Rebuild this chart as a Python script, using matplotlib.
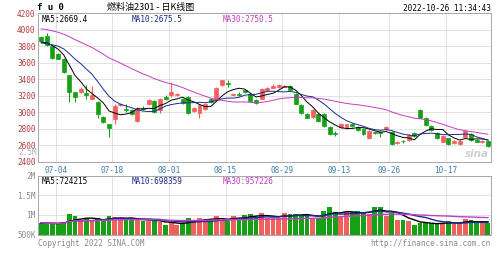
import numpy as np
import pandas as pd
import matplotlib
matplotlib.use('Agg')
import matplotlib.pyplot as plt

# trading days shown, 2022-06-29 .. 2022-10-26 (mid-autumn + national day closed)
holidays = ['2022-09-12', '2022-10-03', '2022-10-04', '2022-10-05', '2022-10-06', '2022-10-07']
dates = pd.bdate_range('2022-06-29', '2022-10-26')
dates = dates[~dates.isin(pd.to_datetime(holidays))]
labels = dates.strftime('%m-%d')

tick_dates = ['07-04', '07-18', '08-01', '08-15', '08-29', '09-13', '09-26', '10-17']

# closes before the window (only feed the moving averages)
prior_close = [4080, 4120, 4150, 4180, 4200, 4230, 4210, 4190, 4160, 4170, 4140, 4110, 4020,
               4060, 4030, 4010, 3990, 3970, 3960, 3945,
               3880, 3820, 3800, 3830, 3820,
               3850, 3830, 3860, 3840]

# daily OHLC read from the candles
opens = [3910, 3930, 3809, 3709, 3648, 3447, 3245, 3245, 3233, 3165,
         3124, 2943, 2854, 2911, 3084, 3044, 3024, 2895, 3056, 3096,
         3136, 3024, 3185, 3205, 3213, 3165, 3185, 3011, 2991, 3044,
         3165, 3152, 3326, 3354, 3213, 3225, 3265, 3225, 3152, 3165,
         3265, 3298, 3306, 3310, 3314, 3225, 3084, 2975, 2943, 2975,
         2975, 2822, 2745, 2814, 2814, 2854, 2822, 2794, 2681, 2755,
         2760, 2790, 2762, 2625, 2655, 2661, 2750, 3024, 2935, 2830,
         2750, 2641, 2681, 2621, 2612, 2701, 2733, 2661, 2633, 2650]
highs = [3930, 3958, 3815, 3720, 3660, 3455, 3250, 3300, 3326, 3314,
         3130, 2950, 2862, 3096, 3115, 3104, 3040, 3060, 3070, 3165,
         3150, 3175, 3205, 3366, 3235, 3175, 3195, 3065, 3095, 3110,
         3175, 3310, 3395, 3386, 3235, 3240, 3275, 3235, 3160, 3295,
         3310, 3340, 3340, 3335, 3325, 3235, 3095, 2985, 3035, 2985,
         2985, 2830, 2770, 2865, 2862, 2870, 2830, 2805, 2785, 2765,
         2775, 2835, 2770, 2650, 2665, 2730, 2760, 3035, 2945, 2840,
         2760, 2720, 2690, 2665, 2665, 2780, 2745, 2670, 2660, 2660]
lows = [3850, 3800, 3650, 3640, 3480, 3124, 3124, 3230, 3165, 3155,
        2923, 2870, 2693, 2862, 3075, 3003, 2965, 2880, 3030, 3085,
        2990, 2985, 3144, 3185, 3200, 3100, 2980, 3000, 2923, 3030,
        3115, 3140, 3320, 3306, 3205, 3195, 3235, 3125, 3100, 3155,
        3255, 3290, 3295, 3300, 3265, 3095, 2980, 2925, 2935, 2885,
        2820, 2720, 2709, 2805, 2800, 2825, 2770, 2725, 2670, 2735,
        2701, 2780, 2600, 2610, 2621, 2655, 2700, 2925, 2830, 2775,
        2670, 2635, 2605, 2615, 2605, 2695, 2650, 2635, 2625, 2575]
closes = [3870, 3810, 3660, 3648, 3487, 3245, 3185, 3285, 3205, 3205,
          2983, 2882, 2802, 3072, 3104, 3024, 2975, 3044, 3040, 3152,
          3003, 3165, 3165, 3245, 3225, 3112, 2991, 3056, 3084, 3096,
          3124, 3298, 3386, 3338, 3225, 3205, 3245, 3136, 3112, 3285,
          3298, 3314, 3326, 3318, 3273, 3104, 2991, 2935, 3024, 2895,
          2830, 2733, 2738, 2854, 2854, 2834, 2782, 2733, 2774, 2745,
          2750, 2822, 2612, 2635, 2645, 2721, 2709, 2935, 2842, 2782,
          2681, 2709, 2612, 2653, 2653, 2770, 2661, 2641, 2648, 2590]

# daily volume, lots
volumes = [793000, 767000, 767000, 767000, 819000, 1010000, 966000, 863000, 880000, 837000,
           922000, 837000, 974000, 940000, 888000, 906000, 870000, 880000, 837000, 837000,
           837000, 819000, 733000, 793000, 733000, 793000, 906000, 837000, 922000, 880000,
           863000, 966000, 863000, 837000, 966000, 922000, 992000, 1010000, 922000, 1036000,
           922000, 922000, 922000, 1036000, 1018000, 1018000, 974000, 974000, 922000, 922000,
           1103000, 1206000, 1077000, 932000, 1077000, 1077000, 1103000, 1062000, 1018000, 1206000,
           1206000, 974000, 1036000, 863000, 863000, 837000, 733000, 777000, 777000, 777000,
           777000, 777000, 837000, 751000, 793000, 888000, 863000, 777000, 777000, 777000]

ma_colors = {5: '#000000', 10: '#1c2a8c', 30: '#c33cc3'}
up_color = '#f0605c'
down_color = '#16a016'
grid_color = '#dddddd'
mono = 'DejaVu Sans Mono'

n = len(dates)
x = np.arange(n)
close_all = pd.Series(prior_close + closes)
vol_s = pd.Series(volumes)
colors = [up_color if c >= o else down_color for o, c in zip(opens, closes)]
tick_pos = [list(labels).index(d) - 0.4 for d in tick_dates]

fig = plt.figure(figsize=(4.99, 2.72), dpi=100)
ax = fig.add_axes([0.0768, 0.406, 0.9066, 0.545])
axv = fig.add_axes([0.0768, 0.136, 0.9066, 0.217])

# candles
ax.vlines(x, lows, highs, colors=colors, linewidth=0.8, zorder=3)
body = [max(abs(c - o), 1) for o, c in zip(opens, closes)]
ax.bar(x, body, bottom=np.minimum(opens, closes), width=0.7, color=colors,
       edgecolor=colors, linewidth=0.5, zorder=4)
for w in (5, 10, 30):
    ma = close_all.rolling(w).mean().to_numpy()[len(prior_close):]
    ax.plot(x, ma, color=ma_colors[w], linewidth=0.7, zorder=5)

ax.set_xlim(-0.5, n - 0.5)
ax.set_ylim(2400, 4200)
ax.set_yticks(np.arange(2400, 4201, 200))
ax.set_xticks(tick_pos)
ax.set_xticklabels(tick_dates)
ax.tick_params(axis='y', length=0, pad=2, labelsize=5.6, labelcolor='#b03a3a')
ax.tick_params(axis='x', length=0, pad=3, labelsize=5.6, labelcolor='#3f7fae')
for lab in ax.get_xticklabels() + ax.get_yticklabels():
    lab.set_family(mono)
ax.grid(True, color=grid_color, linewidth=0.6)
ax.set_axisbelow(True)

ax.text(0.008, 0.99, 'MA5:2669.4', transform=ax.transAxes, va='top', ha='left',
        fontsize=5.6, family=mono, color=ma_colors[5])
ax.text(0.206, 0.99, 'MA10:2675.5', transform=ax.transAxes, va='top', ha='left',
        fontsize=5.6, family=mono, color=ma_colors[10])
ax.text(0.407, 0.99, 'MA30:2750.5', transform=ax.transAxes, va='top', ha='left',
        fontsize=5.6, family=mono, color=ma_colors[30])
ax.text(0.995, 0.02, 'sina', transform=ax.transAxes, va='bottom', ha='right',
        fontsize=7.5, style='italic', fontweight='bold', color='#cfcfcf', zorder=2)

# volume
axv.bar(x, volumes, width=0.85, color=colors, linewidth=0, zorder=3)
for w in (5, 10, 30):
    axv.plot(x, vol_s.rolling(w, min_periods=1).mean(), color=ma_colors[w],
             linewidth=1.0, zorder=4)
axv.set_xlim(-0.5, n - 0.5)
axv.set_ylim(475000, 2000000)
axv.set_yticks([500000, 1000000, 1500000, 2000000])
axv.set_yticklabels(['500K', '1M', '1.5M', '2M'])
axv.set_xticks(tick_pos)
axv.set_xticklabels([])
axv.tick_params(length=0, pad=2, labelsize=5.6, labelcolor='#8a8a8a')
for lab in axv.get_yticklabels():
    lab.set_family(mono)
axv.grid(True, color=grid_color, linewidth=0.6)
axv.set_axisbelow(True)
axv.text(-0.003, 2500000, '2.5M', transform=axv.get_yaxis_transform(), ha='right',
         va='bottom', fontsize=5.6, family=mono, color='#b0b0b0', clip_on=False)

axv.text(0.008, 0.98, 'MA5:724215', transform=axv.transAxes, va='top', ha='left',
         fontsize=5.6, family=mono, color=ma_colors[5])
axv.text(0.206, 0.98, 'MA10:698359', transform=axv.transAxes, va='top', ha='left',
         fontsize=5.6, family=mono, color=ma_colors[10])
axv.text(0.407, 0.98, 'MA30:957226', transform=axv.transAxes, va='top', ha='left',
         fontsize=5.6, family=mono, color=ma_colors[30])

for a in (ax, axv):
    for s in a.spines.values():
        s.set_color('#a8a8a8')
        s.set_linewidth(0.7)

# header and footer
fig.text(0.074, 0.974, 'f u 0', fontsize=6.5, family=mono, fontweight='bold',
         va='center', ha='left')
fig.text(0.215, 0.974, '燃料油2301 - 日K线图', fontsize=6.5,
         family=['Noto Sans CJK SC', 'DejaVu Sans'], va='center', ha='left')
fig.text(0.983, 0.968, '2022-10-26 11:34:43', fontsize=5.6, family=mono,
         va='center', ha='right')
fig.text(0.076, 0.103, 'Copyright 2022 SINA.COM', fontsize=5.6, family=mono,
         color='#8a8a8a', va='center', ha='left')
fig.text(0.983, 0.103, 'http://finance.sina.com.cn', fontsize=5.6, family=mono,
         color='#8a8a8a', va='center', ha='right')

fig.savefig('out.png', dpi=100)
